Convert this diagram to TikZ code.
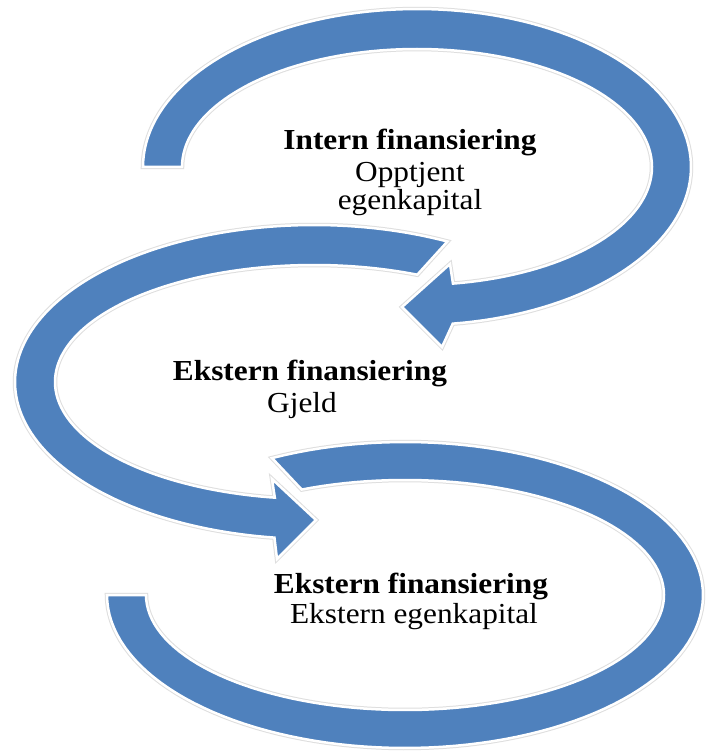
\documentclass[tikz,border=0pt]{standalone}
\usepackage{fontspec}
\setmainfont[FakeStretch=1.08]{Liberation Serif}
\definecolor{arrowblue}{HTML}{4F81BD}
\begin{document}
\begin{tikzpicture}[x=1pt,y=-1pt,
  band/.style={fill=arrowblue,draw=white,line width=2.5pt,line join=miter},
  halo/.style={draw=black!13,line width=4.5pt,line join=miter},
  lbl/.style={anchor=base,inner sep=0pt,font=\fontsize{29}{32}\selectfont}]
\useasboundingbox[fill=white] (0,0) rectangle (708,751);
% ---------- bottom arrow (no head) ----------
\def\bottompath{plot[domain=243.5:540,samples=120] ({405+298*cos(\x)},{595+153*sin(\x)})
  -- plot[domain=540:246.5,samples=120] ({405+259*cos(\x)},{595+115*sin(\x)}) -- cycle}
\path[halo] \bottompath;
\path[band] \bottompath;
% ---------- middle arrow ----------
\def\middlepath{plot[domain=296.5:97.6,samples=120] ({314+299*cos(\x)},{382+157*sin(\x)})
  -- (277,559) -- (316,520) -- (272,479)
  -- plot[domain=98.7:293.5,samples=120] ({314+259*cos(\x)},{382+117*sin(\x)}) -- cycle}
\path[halo] \middlepath;
\path[band] \middlepath;
% ---------- top arrow ----------
\def\toppath{plot[domain=180:442.5,samples=120] ({417+274*cos(\x)},{167+158*sin(\x)})
  -- (442,347) -- (402,307) -- (450,264)
  -- plot[domain=441.2:180,samples=120] ({417+235*cos(\x)},{167+118*sin(\x)}) -- cycle}
\path[halo] \toppath;
\path[band] \toppath;
% ---------- texts ----------
\node[lbl] (t1) at (410,150) {\bfseries Intern finansiering};
\node[lbl] (t2) at (410,182) {Opptjent};
\node[lbl] (t3) at (410,209) {egenkapital};
\node[lbl] (m1) at (310,380) {\bfseries Ekstern finansiering};
\node[lbl] (m2) at (302,412) {Gjeld};
\node[lbl] (b1) at (411,593) {\bfseries Ekstern finansiering};
\node[lbl] (b2) at (414,623) {Ekstern egenkapital};
\end{tikzpicture}
\end{document}
